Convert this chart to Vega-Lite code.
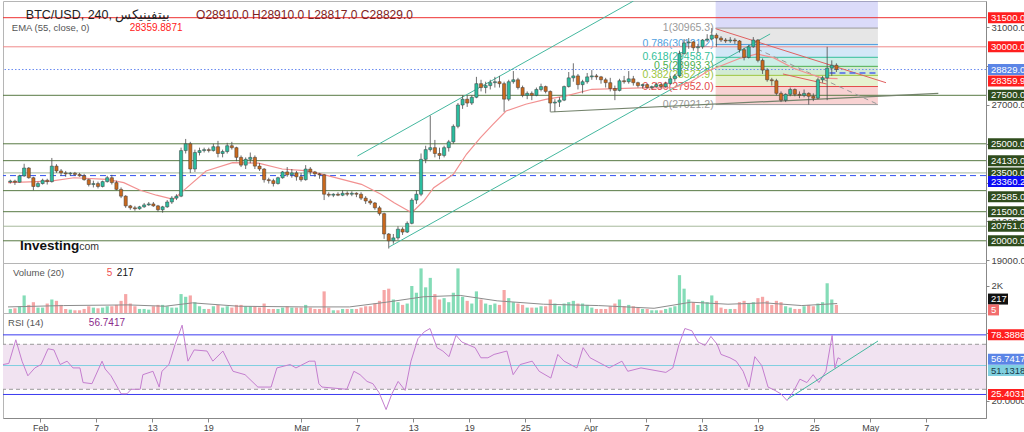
{
"$schema": "https://vega.github.io/schema/vega-lite/v6.json",
"background": "white",
"padding": 0,
"spacing": 0,
"bounds": "flush",
"config": {"font": "Liberation Sans", "view": {"stroke": "#b5b5b5"}},
"datasets": {
"k": [
{"t":"2023-01-28T06:00Z","o":23030,"h":23150,"l":22950,"c":23080,"v":300},
{"t":"2023-01-28T18:00Z","o":23080,"h":23150,"l":22880,"c":23020,"v":350},
{"t":"2023-01-29T06:00Z","o":23020,"h":23400,"l":23000,"c":23350,"v":500},
{"t":"2023-01-29T18:00Z","o":23350,"h":23970,"l":23300,"c":23750,"v":1300},
{"t":"2023-01-30T06:00Z","o":23750,"h":23800,"l":23200,"c":23250,"v":600},
{"t":"2023-01-30T18:00Z","o":23250,"h":23300,"l":22600,"c":22800,"v":800},
{"t":"2023-01-31T06:00Z","o":22800,"h":23050,"l":22750,"c":22950,"v":400},
{"t":"2023-01-31T18:00Z","o":22950,"h":23200,"l":22900,"c":23120,"v":400},
{"t":"2023-02-01T06:00Z","o":23120,"h":23200,"l":22900,"c":23050,"v":700},
{"t":"2023-02-01T18:00Z","o":23050,"h":24270,"l":23000,"c":23850,"v":1000},
{"t":"2023-02-02T06:00Z","o":23850,"h":23950,"l":23500,"c":23600,"v":900},
{"t":"2023-02-02T18:00Z","o":23600,"h":23700,"l":23350,"c":23500,"v":600},
{"t":"2023-02-03T06:00Z","o":23500,"h":23600,"l":23300,"c":23450,"v":300},
{"t":"2023-02-03T18:00Z","o":23450,"h":23550,"l":23350,"c":23480,"v":250},
{"t":"2023-02-04T06:00Z","o":23480,"h":23550,"l":23350,"c":23420,"v":200},
{"t":"2023-02-04T18:00Z","o":23420,"h":23500,"l":23300,"c":23350,"v":200},
{"t":"2023-02-05T06:00Z","o":23350,"h":23450,"l":23100,"c":23150,"v":300},
{"t":"2023-02-05T18:00Z","o":23150,"h":23200,"l":22800,"c":22900,"v":500},
{"t":"2023-02-06T06:00Z","o":22900,"h":23100,"l":22750,"c":22950,"v":400},
{"t":"2023-02-06T18:00Z","o":22950,"h":23050,"l":22700,"c":22800,"v":350},
{"t":"2023-02-07T06:00Z","o":22800,"h":23100,"l":22750,"c":23050,"v":400},
{"t":"2023-02-07T18:00Z","o":23050,"h":23350,"l":23000,"c":23250,"v":500},
{"t":"2023-02-08T06:00Z","o":23250,"h":23400,"l":22900,"c":23000,"v":500},
{"t":"2023-02-08T18:00Z","o":23000,"h":23100,"l":22600,"c":22650,"v":600},
{"t":"2023-02-09T06:00Z","o":22650,"h":22750,"l":22200,"c":22300,"v":900},
{"t":"2023-02-09T18:00Z","o":22300,"h":22350,"l":21700,"c":21800,"v":1400},
{"t":"2023-02-10T06:00Z","o":21800,"h":21850,"l":21600,"c":21700,"v":700},
{"t":"2023-02-10T18:00Z","o":21700,"h":21800,"l":21550,"c":21650,"v":500},
{"t":"2023-02-11T06:00Z","o":21650,"h":21800,"l":21600,"c":21750,"v":300},
{"t":"2023-02-11T18:00Z","o":21750,"h":21950,"l":21700,"c":21850,"v":300},
{"t":"2023-02-12T06:00Z","o":21850,"h":22000,"l":21800,"c":21900,"v":250},
{"t":"2023-02-12T18:00Z","o":21900,"h":22000,"l":21750,"c":21800,"v":500},
{"t":"2023-02-13T06:00Z","o":21800,"h":21850,"l":21500,"c":21600,"v":600},
{"t":"2023-02-13T18:00Z","o":21600,"h":21800,"l":21450,"c":21750,"v":600},
{"t":"2023-02-14T06:00Z","o":21750,"h":22100,"l":21700,"c":22000,"v":500},
{"t":"2023-02-14T18:00Z","o":22000,"h":22300,"l":21900,"c":22200,"v":400},
{"t":"2023-02-15T06:00Z","o":22200,"h":22400,"l":22100,"c":22300,"v":400},
{"t":"2023-02-15T18:00Z","o":22300,"h":24800,"l":22250,"c":24650,"v":1400},
{"t":"2023-02-16T06:00Z","o":24650,"h":25250,"l":24500,"c":25000,"v":1200},
{"t":"2023-02-16T18:00Z","o":25000,"h":25100,"l":23500,"c":23700,"v":1300},
{"t":"2023-02-17T06:00Z","o":23700,"h":24700,"l":23550,"c":24550,"v":800},
{"t":"2023-02-17T18:00Z","o":24550,"h":24800,"l":24400,"c":24650,"v":500},
{"t":"2023-02-18T06:00Z","o":24650,"h":24800,"l":24550,"c":24700,"v":300},
{"t":"2023-02-18T18:00Z","o":24700,"h":24800,"l":24550,"c":24650,"v":300},
{"t":"2023-02-19T06:00Z","o":24650,"h":25000,"l":24600,"c":24850,"v":500},
{"t":"2023-02-19T18:00Z","o":24850,"h":25150,"l":24300,"c":24500,"v":600},
{"t":"2023-02-20T06:00Z","o":24500,"h":24700,"l":24300,"c":24600,"v":400},
{"t":"2023-02-20T18:00Z","o":24600,"h":25050,"l":24500,"c":24900,"v":500},
{"t":"2023-02-21T06:00Z","o":24900,"h":25100,"l":24700,"c":24800,"v":400},
{"t":"2023-02-21T18:00Z","o":24800,"h":24850,"l":24100,"c":24300,"v":600},
{"t":"2023-02-22T06:00Z","o":24300,"h":24400,"l":23800,"c":23900,"v":600},
{"t":"2023-02-22T18:00Z","o":23900,"h":24300,"l":23700,"c":24200,"v":500},
{"t":"2023-02-23T06:00Z","o":24200,"h":24550,"l":24000,"c":24300,"v":500},
{"t":"2023-02-23T18:00Z","o":24300,"h":24400,"l":23700,"c":23850,"v":500},
{"t":"2023-02-24T06:00Z","o":23850,"h":24000,"l":23600,"c":23700,"v":400},
{"t":"2023-02-24T18:00Z","o":23700,"h":23750,"l":23000,"c":23150,"v":700},
{"t":"2023-02-25T06:00Z","o":23150,"h":23250,"l":22950,"c":23100,"v":300},
{"t":"2023-02-25T18:00Z","o":23100,"h":23200,"l":22800,"c":22950,"v":300},
{"t":"2023-02-26T06:00Z","o":22950,"h":23300,"l":22900,"c":23250,"v":300},
{"t":"2023-02-26T18:00Z","o":23250,"h":23600,"l":23200,"c":23550,"v":400},
{"t":"2023-02-27T06:00Z","o":23550,"h":23800,"l":23300,"c":23400,"v":500},
{"t":"2023-02-27T18:00Z","o":23400,"h":23700,"l":23250,"c":23500,"v":400},
{"t":"2023-02-28T06:00Z","o":23500,"h":23600,"l":23100,"c":23300,"v":400},
{"t":"2023-02-28T18:00Z","o":23300,"h":23500,"l":23050,"c":23150,"v":400},
{"t":"2023-03-01T06:00Z","o":23150,"h":23900,"l":23100,"c":23700,"v":600},
{"t":"2023-03-01T18:00Z","o":23700,"h":23800,"l":23400,"c":23550,"v":400},
{"t":"2023-03-02T06:00Z","o":23550,"h":23600,"l":23300,"c":23450,"v":300},
{"t":"2023-03-02T18:00Z","o":23450,"h":23500,"l":23200,"c":23400,"v":300},
{"t":"2023-03-03T06:00Z","o":23400,"h":23450,"l":22100,"c":22400,"v":1600},
{"t":"2023-03-03T18:00Z","o":22400,"h":22500,"l":22250,"c":22350,"v":400},
{"t":"2023-03-04T06:00Z","o":22350,"h":22450,"l":22250,"c":22400,"v":200},
{"t":"2023-03-04T18:00Z","o":22400,"h":22500,"l":22300,"c":22350,"v":200},
{"t":"2023-03-05T06:00Z","o":22350,"h":22600,"l":22300,"c":22450,"v":300},
{"t":"2023-03-05T18:00Z","o":22450,"h":22550,"l":22300,"c":22400,"v":300},
{"t":"2023-03-06T06:00Z","o":22400,"h":22550,"l":22300,"c":22450,"v":300},
{"t":"2023-03-06T18:00Z","o":22450,"h":22500,"l":22250,"c":22400,"v":300},
{"t":"2023-03-07T06:00Z","o":22400,"h":22500,"l":22100,"c":22200,"v":400},
{"t":"2023-03-07T18:00Z","o":22200,"h":22300,"l":21900,"c":22050,"v":500},
{"t":"2023-03-08T06:00Z","o":22050,"h":22150,"l":21850,"c":21950,"v":500},
{"t":"2023-03-08T18:00Z","o":21950,"h":22000,"l":21600,"c":21700,"v":700},
{"t":"2023-03-09T06:00Z","o":21700,"h":21800,"l":21300,"c":21400,"v":900},
{"t":"2023-03-09T18:00Z","o":21400,"h":21450,"l":20100,"c":20350,"v":1700},
{"t":"2023-03-10T06:00Z","o":20350,"h":20400,"l":19600,"c":20000,"v":1800},
{"t":"2023-03-10T18:00Z","o":20000,"h":20350,"l":19850,"c":20150,"v":1000},
{"t":"2023-03-11T06:00Z","o":20150,"h":20750,"l":20050,"c":20600,"v":800},
{"t":"2023-03-11T18:00Z","o":20600,"h":20700,"l":20300,"c":20450,"v":600},
{"t":"2023-03-12T06:00Z","o":20450,"h":21000,"l":20400,"c":20900,"v":700},
{"t":"2023-03-12T18:00Z","o":20900,"h":22200,"l":20850,"c":22100,"v":2000},
{"t":"2023-03-13T06:00Z","o":22100,"h":22600,"l":21900,"c":22400,"v":1500},
{"t":"2023-03-13T18:00Z","o":22400,"h":24500,"l":22300,"c":24200,"v":3300},
{"t":"2023-03-14T06:00Z","o":24200,"h":24900,"l":24000,"c":24700,"v":1900},
{"t":"2023-03-14T18:00Z","o":24700,"h":26450,"l":24600,"c":24800,"v":2600},
{"t":"2023-03-15T06:00Z","o":24800,"h":25200,"l":24300,"c":24500,"v":1400},
{"t":"2023-03-15T18:00Z","o":24500,"h":24800,"l":24200,"c":24400,"v":1000},
{"t":"2023-03-16T06:00Z","o":24400,"h":24900,"l":24300,"c":24800,"v":1100},
{"t":"2023-03-16T18:00Z","o":24800,"h":25200,"l":24600,"c":25100,"v":800},
{"t":"2023-03-17T06:00Z","o":25100,"h":26000,"l":25000,"c":25900,"v":1500},
{"t":"2023-03-17T18:00Z","o":25900,"h":27100,"l":25800,"c":27000,"v":3300},
{"t":"2023-03-18T06:00Z","o":27000,"h":27500,"l":26800,"c":27300,"v":1200},
{"t":"2023-03-18T18:00Z","o":27300,"h":27500,"l":26900,"c":27100,"v":900},
{"t":"2023-03-19T06:00Z","o":27100,"h":27500,"l":27000,"c":27400,"v":700},
{"t":"2023-03-19T18:00Z","o":27400,"h":28450,"l":27350,"c":28100,"v":1600},
{"t":"2023-03-20T06:00Z","o":28100,"h":28300,"l":27700,"c":27900,"v":1000},
{"t":"2023-03-20T18:00Z","o":27900,"h":28200,"l":27600,"c":28000,"v":700},
{"t":"2023-03-21T06:00Z","o":28000,"h":28300,"l":27800,"c":28150,"v":600},
{"t":"2023-03-21T18:00Z","o":28150,"h":28450,"l":27900,"c":28200,"v":700},
{"t":"2023-03-22T06:00Z","o":28200,"h":28500,"l":27900,"c":28100,"v":600},
{"t":"2023-03-22T18:00Z","o":28100,"h":28200,"l":26650,"c":27300,"v":1700},
{"t":"2023-03-23T06:00Z","o":27300,"h":28300,"l":27200,"c":28200,"v":1100},
{"t":"2023-03-23T18:00Z","o":28200,"h":28750,"l":28100,"c":28300,"v":800},
{"t":"2023-03-24T06:00Z","o":28300,"h":28400,"l":27800,"c":27900,"v":700},
{"t":"2023-03-24T18:00Z","o":27900,"h":28000,"l":27400,"c":27500,"v":600},
{"t":"2023-03-25T06:00Z","o":27500,"h":27700,"l":27300,"c":27600,"v":400},
{"t":"2023-03-25T18:00Z","o":27600,"h":27700,"l":27250,"c":27500,"v":400},
{"t":"2023-03-26T06:00Z","o":27500,"h":27900,"l":27450,"c":27800,"v":400},
{"t":"2023-03-26T18:00Z","o":27800,"h":28100,"l":27700,"c":27950,"v":500},
{"t":"2023-03-27T06:00Z","o":27950,"h":28000,"l":27600,"c":27700,"v":500},
{"t":"2023-03-27T18:00Z","o":27700,"h":27750,"l":26650,"c":27100,"v":1000},
{"t":"2023-03-28T06:00Z","o":27100,"h":27300,"l":26650,"c":27150,"v":700},
{"t":"2023-03-28T18:00Z","o":27150,"h":27400,"l":26900,"c":27250,"v":500},
{"t":"2023-03-29T06:00Z","o":27250,"h":28000,"l":27200,"c":27950,"v":700},
{"t":"2023-03-29T18:00Z","o":27950,"h":28700,"l":27900,"c":28400,"v":800},
{"t":"2023-03-30T06:00Z","o":28400,"h":29150,"l":28200,"c":28500,"v":900},
{"t":"2023-03-30T18:00Z","o":28500,"h":28600,"l":27800,"c":28050,"v":700},
{"t":"2023-03-31T06:00Z","o":28050,"h":28300,"l":27600,"c":28200,"v":700},
{"t":"2023-03-31T18:00Z","o":28200,"h":28650,"l":28100,"c":28450,"v":600},
{"t":"2023-04-01T06:00Z","o":28450,"h":28800,"l":28300,"c":28500,"v":400},
{"t":"2023-04-01T18:00Z","o":28500,"h":28600,"l":28300,"c":28450,"v":300},
{"t":"2023-04-02T06:00Z","o":28450,"h":28500,"l":28100,"c":28300,"v":300},
{"t":"2023-04-02T18:00Z","o":28300,"h":28400,"l":27900,"c":28150,"v":300},
{"t":"2023-04-03T06:00Z","o":28150,"h":28400,"l":27700,"c":27850,"v":500},
{"t":"2023-04-03T18:00Z","o":27850,"h":28000,"l":27250,"c":27750,"v":700},
{"t":"2023-04-04T06:00Z","o":27750,"h":28350,"l":27700,"c":28250,"v":1000},
{"t":"2023-04-04T18:00Z","o":28250,"h":28500,"l":28100,"c":28200,"v":500},
{"t":"2023-04-05T06:00Z","o":28200,"h":28750,"l":28100,"c":28350,"v":600},
{"t":"2023-04-05T18:00Z","o":28350,"h":28500,"l":28000,"c":28150,"v":500},
{"t":"2023-04-06T06:00Z","o":28150,"h":28200,"l":27900,"c":28000,"v":400},
{"t":"2023-04-06T18:00Z","o":28000,"h":28100,"l":27850,"c":28050,"v":300},
{"t":"2023-04-07T06:00Z","o":28050,"h":28100,"l":27850,"c":27900,"v":300},
{"t":"2023-04-07T18:00Z","o":27900,"h":28000,"l":27800,"c":27950,"v":200},
{"t":"2023-04-08T06:00Z","o":27950,"h":28150,"l":27900,"c":28050,"v":200},
{"t":"2023-04-08T18:00Z","o":28050,"h":28100,"l":27850,"c":27950,"v":200},
{"t":"2023-04-09T06:00Z","o":27950,"h":28200,"l":27900,"c":28100,"v":300},
{"t":"2023-04-09T18:00Z","o":28100,"h":28500,"l":28050,"c":28350,"v":400},
{"t":"2023-04-10T06:00Z","o":28350,"h":28600,"l":28200,"c":28500,"v":500},
{"t":"2023-04-10T18:00Z","o":28500,"h":29800,"l":28450,"c":29650,"v":2800},
{"t":"2023-04-11T06:00Z","o":29650,"h":30400,"l":29600,"c":30200,"v":1800},
{"t":"2023-04-11T18:00Z","o":30200,"h":30450,"l":29900,"c":30250,"v":1000},
{"t":"2023-04-12T06:00Z","o":30250,"h":30300,"l":29800,"c":29950,"v":800},
{"t":"2023-04-12T18:00Z","o":29950,"h":30150,"l":29700,"c":30000,"v":600},
{"t":"2023-04-13T06:00Z","o":30000,"h":30400,"l":29900,"c":30350,"v":900},
{"t":"2023-04-13T18:00Z","o":30350,"h":30650,"l":30250,"c":30400,"v":800},
{"t":"2023-04-14T06:00Z","o":30400,"h":30965,"l":30350,"c":30600,"v":1300},
{"t":"2023-04-14T18:00Z","o":30600,"h":30700,"l":30000,"c":30450,"v":900},
{"t":"2023-04-15T06:00Z","o":30450,"h":30550,"l":30250,"c":30350,"v":400},
{"t":"2023-04-15T18:00Z","o":30350,"h":30450,"l":30200,"c":30300,"v":300},
{"t":"2023-04-16T06:00Z","o":30300,"h":30500,"l":30200,"c":30350,"v":300},
{"t":"2023-04-16T18:00Z","o":30350,"h":30450,"l":30150,"c":30300,"v":300},
{"t":"2023-04-17T06:00Z","o":30300,"h":30350,"l":29700,"c":29850,"v":800},
{"t":"2023-04-17T18:00Z","o":29850,"h":29950,"l":29300,"c":29450,"v":900},
{"t":"2023-04-18T06:00Z","o":29450,"h":30100,"l":29400,"c":30000,"v":700},
{"t":"2023-04-18T18:00Z","o":30000,"h":30500,"l":29950,"c":30350,"v":800},
{"t":"2023-04-19T06:00Z","o":30350,"h":30400,"l":29200,"c":29300,"v":1100},
{"t":"2023-04-19T18:00Z","o":29300,"h":29400,"l":28600,"c":28800,"v":1200},
{"t":"2023-04-20T06:00Z","o":28800,"h":28900,"l":28200,"c":28300,"v":900},
{"t":"2023-04-20T18:00Z","o":28300,"h":28400,"l":28000,"c":28250,"v":600},
{"t":"2023-04-21T06:00Z","o":28250,"h":28350,"l":27500,"c":27600,"v":900},
{"t":"2023-04-21T18:00Z","o":27600,"h":27700,"l":27150,"c":27250,"v":800},
{"t":"2023-04-22T06:00Z","o":27250,"h":27600,"l":27150,"c":27550,"v":500},
{"t":"2023-04-22T18:00Z","o":27550,"h":27900,"l":27450,"c":27800,"v":400},
{"t":"2023-04-23T06:00Z","o":27800,"h":27850,"l":27450,"c":27550,"v":300},
{"t":"2023-04-23T18:00Z","o":27550,"h":27700,"l":27350,"c":27500,"v":300},
{"t":"2023-04-24T06:00Z","o":27500,"h":27800,"l":27400,"c":27600,"v":500},
{"t":"2023-04-24T18:00Z","o":27600,"h":27650,"l":27021,"c":27450,"v":600},
{"t":"2023-04-25T06:00Z","o":27450,"h":27600,"l":27200,"c":27350,"v":500},
{"t":"2023-04-25T18:00Z","o":27350,"h":28400,"l":27300,"c":28300,"v":700},
{"t":"2023-04-26T06:00Z","o":28300,"h":28500,"l":28150,"c":28400,"v":800},
{"t":"2023-04-26T18:00Z","o":28400,"h":30000,"l":27250,"c":28900,"v":2200},
{"t":"2023-04-27T06:00Z","o":28900,"h":29300,"l":28500,"c":29050,"v":1000},
{"t":"2023-04-27T18:00Z","o":29050,"h":29150,"l":28700,"c":28829,"v":600}
],
"ema": [
{"t":"2023-01-28T00:00Z","p":23000},{"t":"2023-02-01T15:00Z","p":23080},{"t":"2023-02-04T04:00Z","p":23250},{"t":"2023-02-07T17:00Z","p":23170},{"t":"2023-02-09T13:00Z","p":23000},{"t":"2023-02-11T06:00Z","p":22620},{"t":"2023-02-13T02:00Z","p":22350},{"t":"2023-02-14T22:00Z","p":22140},{"t":"2023-02-16T07:00Z","p":22700},{"t":"2023-02-18T11:00Z","p":23600},{"t":"2023-02-21T08:00Z","p":24025},{"t":"2023-02-24T03:00Z","p":24000},{"t":"2023-02-26T17:00Z","p":23700},{"t":"2023-03-01T04:00Z","p":23620},{"t":"2023-03-03T00:00Z","p":23440},{"t":"2023-03-07T07:00Z","p":22910},{"t":"2023-03-09T10:00Z","p":22400},{"t":"2023-03-10T20:00Z","p":21960},{"t":"2023-03-12T18:00Z","p":21450},{"t":"2023-03-14T01:00Z","p":22050},{"t":"2023-03-15T03:00Z","p":22740},{"t":"2023-03-17T06:00Z","p":23430},{"t":"2023-03-18T16:00Z","p":24460},{"t":"2023-03-20T04:00Z","p":25310},{"t":"2023-03-21T13:00Z","p":26000},{"t":"2023-03-22T23:00Z","p":26690},{"t":"2023-03-25T02:00Z","p":27040},{"t":"2023-03-27T06:00Z","p":27290},{"t":"2023-03-29T09:00Z","p":27460},{"t":"2023-04-01T06:00Z","p":27810},{"t":"2023-04-06T15:00Z","p":27880},{"t":"2023-04-10T04:00Z","p":27900},{"t":"2023-04-12T00:00Z","p":28200},{"t":"2023-04-13T20:00Z","p":28750},{"t":"2023-04-17T09:00Z","p":29420},{"t":"2023-04-19T04:00Z","p":29630},{"t":"2023-04-20T22:00Z","p":29440},{"t":"2023-04-23T01:00Z","p":28910},{"t":"2023-04-24T13:00Z","p":28650},{"t":"2023-04-26T06:00Z","p":28390},{"t":"2023-04-27T21:00Z","p":28360}
],
"vma": [
{"t":"2023-01-28T00:00Z","v":450},{"t":"2023-02-03T00:00Z","v":550},{"t":"2023-02-10T00:00Z","v":600},{"t":"2023-02-14T00:00Z","v":500},{"t":"2023-02-17T00:00Z","v":750},{"t":"2023-02-22T00:00Z","v":500},{"t":"2023-03-01T00:00Z","v":450},{"t":"2023-03-06T00:00Z","v":450},{"t":"2023-03-10T00:00Z","v":800},{"t":"2023-03-14T00:00Z","v":1200},{"t":"2023-03-18T00:00Z","v":1300},{"t":"2023-03-22T00:00Z","v":900},{"t":"2023-03-27T00:00Z","v":650},{"t":"2023-04-02T00:00Z","v":550},{"t":"2023-04-08T00:00Z","v":350},{"t":"2023-04-12T00:00Z","v":800},{"t":"2023-04-16T00:00Z","v":650},{"t":"2023-04-20T00:00Z","v":750},{"t":"2023-04-24T00:00Z","v":550},{"t":"2023-04-27T20:00Z","v":700}
],
"rsi": [
{"t":"2023-01-28T00:00Z","r":52},{"t":"2023-01-28T15:00Z","r":53},{"t":"2023-01-29T09:00Z","r":74},{"t":"2023-01-30T01:00Z","r":55},{"t":"2023-01-30T16:00Z","r":42},{"t":"2023-01-31T10:00Z","r":49},{"t":"2023-02-01T02:00Z","r":52},{"t":"2023-02-01T20:00Z","r":66},{"t":"2023-02-02T11:00Z","r":65},{"t":"2023-02-03T03:00Z","r":52},{"t":"2023-02-03T21:00Z","r":55},{"t":"2023-02-04T12:00Z","r":49},{"t":"2023-02-05T06:00Z","r":49},{"t":"2023-02-05T14:00Z","r":36},{"t":"2023-02-06T13:00Z","r":35},{"t":"2023-02-07T15:00Z","r":55},{"t":"2023-02-07T23:00Z","r":48},{"t":"2023-02-08T14:00Z","r":42},{"t":"2023-02-09T16:00Z","r":26},{"t":"2023-02-10T07:00Z","r":26},{"t":"2023-02-10T18:00Z","r":30},{"t":"2023-02-11T17:00Z","r":30},{"t":"2023-02-12T00:00Z","r":43},{"t":"2023-02-13T02:00Z","r":46},{"t":"2023-02-13T18:00Z","r":32},{"t":"2023-02-14T01:00Z","r":46},{"t":"2023-02-14T19:00Z","r":52},{"t":"2023-02-15T11:00Z","r":70},{"t":"2023-02-16T05:00Z","r":87},{"t":"2023-02-16T20:00Z","r":55},{"t":"2023-02-17T12:00Z","r":65},{"t":"2023-02-18T21:00Z","r":64},{"t":"2023-02-19T12:00Z","r":55},{"t":"2023-02-20T14:00Z","r":64},{"t":"2023-02-21T16:00Z","r":46},{"t":"2023-02-22T23:00Z","r":43},{"t":"2023-02-24T08:00Z","r":32},{"t":"2023-02-25T00:00Z","r":32},{"t":"2023-02-25T18:00Z","r":32},{"t":"2023-02-26T09:00Z","r":49},{"t":"2023-02-27T19:00Z","r":52},{"t":"2023-02-28T10:00Z","r":49},{"t":"2023-03-01T20:00Z","r":55},{"t":"2023-03-02T11:00Z","r":55},{"t":"2023-03-02T21:00Z","r":35},{"t":"2023-03-03T05:00Z","r":32},{"t":"2023-03-05T21:00Z","r":30},{"t":"2023-03-06T15:00Z","r":46},{"t":"2023-03-07T07:00Z","r":43},{"t":"2023-03-08T01:00Z","r":37},{"t":"2023-03-08T16:00Z","r":35},{"t":"2023-03-09T08:00Z","r":27},{"t":"2023-03-10T02:00Z","r":12},{"t":"2023-03-10T17:00Z","r":26},{"t":"2023-03-11T09:00Z","r":37},{"t":"2023-03-12T03:00Z","r":29},{"t":"2023-03-12T18:00Z","r":55},{"t":"2023-03-13T12:00Z","r":75},{"t":"2023-03-14T04:00Z","r":81},{"t":"2023-03-14T19:00Z","r":84},{"t":"2023-03-15T13:00Z","r":67},{"t":"2023-03-16T04:00Z","r":64},{"t":"2023-03-16T20:00Z","r":59},{"t":"2023-03-17T14:00Z","r":78},{"t":"2023-03-18T05:00Z","r":72},{"t":"2023-03-19T15:00Z","r":67},{"t":"2023-03-20T06:00Z","r":58},{"t":"2023-03-21T00:00Z","r":58},{"t":"2023-03-21T16:00Z","r":61},{"t":"2023-03-23T01:00Z","r":64},{"t":"2023-03-23T17:00Z","r":43},{"t":"2023-03-24T11:00Z","r":52},{"t":"2023-03-25T18:00Z","r":55},{"t":"2023-03-26T12:00Z","r":46},{"t":"2023-03-27T18:00Z","r":40},{"t":"2023-03-28T12:00Z","r":61},{"t":"2023-03-29T04:00Z","r":55},{"t":"2023-03-30T13:00Z","r":49},{"t":"2023-03-31T05:00Z","r":67},{"t":"2023-03-31T23:00Z","r":58},{"t":"2023-04-02T08:00Z","r":52},{"t":"2023-04-03T00:00Z","r":49},{"t":"2023-04-04T09:00Z","r":55},{"t":"2023-04-05T00:00Z","r":46},{"t":"2023-04-06T10:00Z","r":49},{"t":"2023-04-09T02:00Z","r":45},{"t":"2023-04-09T20:00Z","r":49},{"t":"2023-04-10T12:00Z","r":70},{"t":"2023-04-11T03:00Z","r":84},{"t":"2023-04-11T21:00Z","r":82},{"t":"2023-04-12T13:00Z","r":72},{"t":"2023-04-13T07:00Z","r":69},{"t":"2023-04-13T22:00Z","r":77},{"t":"2023-04-14T14:00Z","r":70},{"t":"2023-04-15T00:00Z","r":61},{"t":"2023-04-15T23:00Z","r":58},{"t":"2023-04-16T15:00Z","r":55},{"t":"2023-04-17T09:00Z","r":46},{"t":"2023-04-18T00:00Z","r":32},{"t":"2023-04-18T15:00Z","r":59},{"t":"2023-04-19T09:00Z","r":51},{"t":"2023-04-20T01:00Z","r":32},{"t":"2023-04-20T19:00Z","r":29},{"t":"2023-04-21T10:00Z","r":26},{"t":"2023-04-22T02:00Z","r":20},{"t":"2023-04-22T20:00Z","r":29},{"t":"2023-04-23T11:00Z","r":39},{"t":"2023-04-24T05:00Z","r":36},{"t":"2023-04-24T21:00Z","r":43},{"t":"2023-04-25T12:00Z","r":36},{"t":"2023-04-26T06:00Z","r":46},{"t":"2023-04-26T22:00Z","r":78},{"t":"2023-04-27T05:00Z","r":49},{"t":"2023-04-27T13:00Z","r":58},{"t":"2023-04-27T20:00Z","r":56.74}
],
"fib": [
{"lvl":"1.618","p":33402.9,"lo":30965.3,"lab":"","t0":"2023-04-14T16:00Z","t1":"2023-05-02T06:00Z"},
{"lvl":"1","p":30965.3,"lo":30121.2,"lab":"1(30965.3)","t0":"2023-04-14T16:00Z","t1":"2023-05-02T06:00Z"},
{"lvl":"0.786","p":30121.2,"lo":29458.7,"lab":"0.786(30121.2)","t0":"2023-04-14T16:00Z","t1":"2023-05-02T06:00Z"},
{"lvl":"0.618","p":29458.7,"lo":28993.3,"lab":"0.618(29458.7)","t0":"2023-04-14T16:00Z","t1":"2023-05-02T06:00Z"},
{"lvl":"0.5","p":28993.3,"lo":28527.9,"lab":"0.5(28993.3)","t0":"2023-04-14T16:00Z","t1":"2023-05-02T06:00Z"},
{"lvl":"0.382","p":28527.9,"lo":27952.0,"lab":"0.382(28527.9)","t0":"2023-04-14T16:00Z","t1":"2023-05-02T06:00Z"},
{"lvl":"0.236","p":27952.0,"lo":27021.2,"lab":"0.236(27952.0)","t0":"2023-04-14T16:00Z","t1":"2023-05-02T06:00Z"},
{"lvl":"0","p":27021.2,"lo":null,"lab":"0(27021.2)","t0":"2023-04-14T16:00Z","t1":"2023-05-02T06:00Z"}
],
"lv": [
{"p":31500,"kind":"r1"},{"p":30000,"kind":"r2"},{"p":28829,"kind":"bp"},{"p":27500,"kind":"dg"},{"p":25000,"kind":"dg"},{"p":24130,"kind":"dg"},{"p":23500,"kind":"lg"},{"p":23360.2,"kind":"bd"},{"p":22585,"kind":"dg"},{"p":21500,"kind":"dg"},{"p":20751,"kind":"lg"},{"p":20000,"kind":"dg"}
],
"tl": [
{"id":"ch1","t":"2023-03-06T20:40Z","p":24370},{"id":"ch1","t":"2023-04-05T18:30Z","p":32361},
{"id":"ch2","t":"2023-03-10T07:00Z","p":19680},{"id":"ch2","t":"2023-04-20T13:40Z","p":30660},
{"id":"sup","t":"2023-03-27T18:30Z","p":26640},{"id":"sup","t":"2023-05-08T19:00Z","p":27603},
{"id":"rd","t":"2023-04-14T16:00Z","p":30933},{"id":"rd","t":"2023-05-03T03:00Z","p":28149},
{"id":"rs","t":"2023-04-21T23:00Z","p":28598},{"id":"rs","t":"2023-04-26T16:30Z","p":28082},
{"id":"gd","t":"2023-04-19T04:20Z","p":29886},{"id":"gd","t":"2023-05-02T04:00Z","p":27051},
{"id":"bs","t":"2023-04-27T00:00Z","p":28650},{"id":"bs","t":"2023-05-02T09:00Z","p":28650}
],
"pb": [
{"p":31500,"lab":"31500.0","kind":"r"},{"p":30000,"lab":"30000.0","kind":"r"},{"p":28829,"lab":"28829.0","kind":"b1"},{"p":28359.9,"lab":"28359.9","kind":"r"},{"p":27500,"lab":"27500.0","kind":"g"},{"p":25000,"lab":"25000.0","kind":"g"},{"p":24130,"lab":"24130.0","kind":"g"},{"p":23500,"lab":"23500.0","kind":"g"},{"p":23360.2,"lab":"23360.2","kind":"b2"},{"p":22585,"lab":"22585.0","kind":"g"},{"p":21500,"lab":"21500.0","kind":"g"},{"p":20751,"lab":"20751.0","kind":"g"},{"p":20000,"lab":"20000.0","kind":"g"}
],
"rb": [
{"r":78.3886,"lab":"78.3886","kind":"b"},{"r":56.7417,"lab":"56.7417","kind":"p"},{"r":25.4031,"lab":"25.4031","kind":"b"}
]
},
"vconcat": [
{
"width": 983, "height": 262,
"layer": [
{"data":{"name":"fib"},"transform":[{"filter":"datum.lo != null"}],
 "mark":{"type":"rect","clip":true,"opacity":0.25},
 "encoding":{
  "x":{"field":"t0","type":"temporal","scale":{"type":"utc","domain":[{"year":2023,"month":1,"date":28,"utc":true},{"year":2023,"month":5,"date":13,"hours":10,"utc":true}]},"axis":null},
  "x2":{"field":"t1"},
  "y":{"field":"p","type":"quantitative","scale":{"domain":[18855,32361],"nice":false,"zero":false},
       "axis":{"orient":"right","title":null,"grid":false,"values":[19000,20000,21000,22000,23000,24000,25000,26000,27000,28000,29000,30000,31000,32000],"format":".1f","labelFontSize":9.5,"labelColor":"#444","tickColor":"#888","domainColor":"#888","tickSize":3,"labelPadding":2}},
  "y2":{"field":"lo"},
  "color":{"field":"lvl","type":"nominal","scale":{"domain":["1.618","1","0.786","0.618","0.5","0.382","0.236","0"],"range":["#6f6fe6","#9a9a9a","#4f9fe0","#35bf9a","#4caf50","#9cc63f","#e34b4b","#9a9a9a"]},"legend":null}}},
{"data":{"name":"fib"},"transform":[{"filter":"datum.lvl != '1.618'"}],
 "mark":{"type":"rule","clip":true,"strokeWidth":1},
 "encoding":{"x":{"field":"t0","type":"temporal","scale":{"type":"utc"}},"x2":{"field":"t1"},"y":{"field":"p","type":"quantitative"},"color":{"field":"lvl","type":"nominal","legend":null}}},
{"data":{"name":"fib"},"transform":[{"filter":"datum.lab != ''"}],
 "mark":{"type":"text","align":"right","baseline":"middle","dx":-2,"fontSize":10.5},
 "encoding":{"x":{"field":"t0","type":"temporal","scale":{"type":"utc"}},"y":{"field":"p","type":"quantitative"},"text":{"field":"lab"},"color":{"field":"lvl","type":"nominal","legend":null}}},
{"data":{"name":"lv"},
 "mark":{"type":"rule","strokeWidth":1},
 "encoding":{"y":{"field":"p","type":"quantitative"},
  "stroke":{"field":"kind","type":"nominal","scale":{"domain":["dg","lg","r1","r2","bd","bp"],"range":["#587a44","#a7b99c","#ee3030","#f08a8a","#3050f0","#6a8cf0"]},"legend":null},
  "strokeDash":{"field":"kind","type":"nominal","scale":{"domain":["dg","lg","r1","r2","bd","bp"],"range":[[1,0],[1,0],[1,0],[1,0],[6,4],[1.5,2]]},"legend":null}}},
{"data":{"name":"tl"},"transform":[{"filter":{"field":"id","oneOf":["ch1","ch2"]}}],
 "mark":{"type":"line","clip":true,"stroke":"#45b89f","strokeWidth":1},
 "encoding":{"x":{"field":"t","type":"temporal","scale":{"type":"utc"}},"y":{"field":"p","type":"quantitative"},"detail":{"field":"id"}}},
{"data":{"name":"tl"},"transform":[{"filter":{"field":"id","oneOf":["sup"]}}],
 "mark":{"type":"line","clip":true,"stroke":"#74836c","strokeWidth":1.2},
 "encoding":{"x":{"field":"t","type":"temporal","scale":{"type":"utc"}},"y":{"field":"p","type":"quantitative"}}},
{"data":{"name":"tl"},"transform":[{"filter":{"field":"id","oneOf":["rd","rs"]}}],
 "mark":{"type":"line","clip":true,"stroke":"#e06060","strokeWidth":1},
 "encoding":{"x":{"field":"t","type":"temporal","scale":{"type":"utc"}},"y":{"field":"p","type":"quantitative"},"detail":{"field":"id"}}},
{"data":{"name":"tl"},"transform":[{"filter":{"field":"id","oneOf":["gd"]}}],
 "mark":{"type":"line","clip":true,"stroke":"#9a9a9a","strokeWidth":1,"strokeDash":[5,4]},
 "encoding":{"x":{"field":"t","type":"temporal","scale":{"type":"utc"}},"y":{"field":"p","type":"quantitative"}}},
{"data":{"name":"tl"},"transform":[{"filter":{"field":"id","oneOf":["bs"]}}],
 "mark":{"type":"line","clip":true,"stroke":"#4d66ee","strokeWidth":1.3,"strokeDash":[6,4]},
 "encoding":{"x":{"field":"t","type":"temporal","scale":{"type":"utc"}},"y":{"field":"p","type":"quantitative"}}},
{"data":{"name":"ema"},
 "mark":{"type":"line","stroke":"#f29191","strokeWidth":1.2},
 "encoding":{"x":{"field":"t","type":"temporal","scale":{"type":"utc"}},"y":{"field":"p","type":"quantitative"}}},
{"data":{"name":"k"},
 "mark":{"type":"rule","stroke":"#4a4a4a","strokeWidth":0.8},
 "encoding":{"x":{"field":"t","type":"temporal","scale":{"type":"utc"}},"y":{"field":"l","type":"quantitative"},"y2":{"field":"h"}}},
{"data":{"name":"k"},
 "mark":{"type":"bar","size":3.2,"stroke":"#3d3d3d","strokeWidth":0.5},
 "encoding":{"x":{"field":"t","type":"temporal","scale":{"type":"utc"}},"y":{"field":"o","type":"quantitative"},"y2":{"field":"c"},
  "color":{"condition":{"test":"datum.c >= datum.o","value":"#2bbd9f"},"value":"#c9681c"}}},
{"data":{"values":[{}]},
 "mark":{"type":"text","align":"left","baseline":"middle","fontSize":12.5,"color":"#222"},
 "encoding":{"x":{"datum":{"year":2023,"month":1,"date":29,"hours":22,"minutes":20,"utc":true},"type":"temporal","scale":{"type":"utc"}},"y":{"datum":31639},"text":{"value":"BTC/USD, 240, بيتفينيكس"}}},
{"data":{"values":[{}]},
 "mark":{"type":"text","align":"left","baseline":"middle","fontSize":12,"color":"#7d2222"},
 "encoding":{"x":{"datum":{"year":2023,"month":2,"date":17,"hours":9,"utc":true},"type":"temporal","scale":{"type":"utc"}},"y":{"datum":31639},"text":{"value":"O28910.0  H28910.0  L28817.0  C28829.0"}}},
{"data":{"values":[{}]},
 "mark":{"type":"text","align":"left","baseline":"middle","fontSize":9.5,"color":"#555"},
 "encoding":{"x":{"datum":{"year":2023,"month":1,"date":28,"hours":10,"utc":true},"type":"temporal","scale":{"type":"utc"}},"y":{"datum":30969},"text":{"value":"EMA (55, close, 0)"}}},
{"data":{"values":[{}]},
 "mark":{"type":"text","align":"left","baseline":"middle","fontSize":10,"color":"#ff2020"},
 "encoding":{"x":{"datum":{"year":2023,"month":2,"date":10,"hours":4,"minutes":30,"utc":true},"type":"temporal","scale":{"type":"utc"}},"y":{"datum":30969},"text":{"value":"28359.8871"}}},
{"data":{"values":[{}]},
 "mark":{"type":"text","align":"left","baseline":"middle","fontSize":13.5,"fontWeight":"bold","color":"#111"},
 "encoding":{"x":{"datum":{"year":2023,"month":1,"date":29,"hours":7,"utc":true},"type":"temporal","scale":{"type":"utc"}},"y":{"datum":19731},"text":{"value":"Investing"}}},
{"data":{"values":[{}]},
 "mark":{"type":"text","align":"left","baseline":"middle","fontSize":10.5,"color":"#333","dy":1},
 "encoding":{"x":{"datum":{"year":2023,"month":2,"date":4,"hours":9,"minutes":30,"utc":true},"type":"temporal","scale":{"type":"utc"}},"y":{"datum":19731},"text":{"value":".com"}}},
{"data":{"name":"pb"},"transform":[{"filter":{"not":{"field":"lab","oneOf":["23360.2","22585.0","28359.9"]}}}],
 "mark":{"type":"point","shape":"M0.1,-0.275L2,-0.275L2,0.275L0.1,0.275Z","size":1600,"filled":true,"opacity":1,"strokeWidth":0},
 "encoding":{"x":{"value":"width"},"y":{"field":"p","type":"quantitative"},
  "fill":{"field":"kind","type":"nominal","scale":{"domain":["r","b1","g","b2"],"range":["#ff1f1f","#5b85e6","#2f4c1d","#0b0bf5"]},"legend":null}}},
{"data":{"name":"pb"},"transform":[{"filter":{"not":{"field":"lab","oneOf":["23360.2","22585.0","28359.9"]}}}],
 "mark":{"type":"text","align":"left","baseline":"middle","dx":5,"fontSize":9.5,"color":"white"},
 "encoding":{"x":{"value":"width"},"y":{"field":"p","type":"quantitative"},"text":{"field":"lab"}}},
{"data":{"name":"pb"},"transform":[{"filter":{"field":"lab","oneOf":["28359.9"]}}],
 "mark":{"type":"point","shape":"M0.1,-0.275L2,-0.275L2,0.275L0.1,0.275Z","size":1600,"filled":true,"opacity":1,"strokeWidth":0,"yOffset":2.5},
 "encoding":{"x":{"value":"width"},"y":{"field":"p","type":"quantitative"},
  "fill":{"field":"kind","type":"nominal","legend":null}}},
{"data":{"name":"pb"},"transform":[{"filter":{"field":"lab","oneOf":["28359.9"]}}],
 "mark":{"type":"text","align":"left","baseline":"middle","dx":5,"fontSize":9.5,"color":"white","yOffset":2.5},
 "encoding":{"x":{"value":"width"},"y":{"field":"p","type":"quantitative"},"text":{"field":"lab"}}},
{"data":{"name":"pb"},"transform":[{"filter":{"field":"lab","oneOf":["23360.2","22585.0"]}}],
 "mark":{"type":"point","shape":"M0.1,-0.275L2,-0.275L2,0.275L0.1,0.275Z","size":1600,"filled":true,"opacity":1,"strokeWidth":0,"yOffset":6},
 "encoding":{"x":{"value":"width"},"y":{"field":"p","type":"quantitative"},
  "fill":{"field":"kind","type":"nominal","legend":null}}},
{"data":{"name":"pb"},"transform":[{"filter":{"field":"lab","oneOf":["23360.2","22585.0"]}}],
 "mark":{"type":"text","align":"left","baseline":"middle","dx":5,"fontSize":9.5,"color":"white","yOffset":6},
 "encoding":{"x":{"value":"width"},"y":{"field":"p","type":"quantitative"},"text":{"field":"lab"}}}
]
},
{
"width": 983, "height": 50,
"layer": [
{"data":{"name":"k"},
 "mark":{"type":"bar","size":3.2},
 "encoding":{
  "x":{"field":"t","type":"temporal","scale":{"type":"utc","domain":[{"year":2023,"month":1,"date":28,"utc":true},{"year":2023,"month":5,"date":13,"hours":10,"utc":true}]},"axis":null},
  "y":{"field":"v","type":"quantitative","scale":{"domain":[0,3700],"nice":false},
       "axis":{"orient":"right","title":null,"grid":false,"values":[2000],"labelExpr":"'2K'","labelFontSize":9.5,"labelColor":"#444","tickColor":"#888","domainColor":"#888","tickSize":3,"labelPadding":2}},
  "color":{"condition":{"test":"datum.c >= datum.o","value":"#84dcb7"},"value":"#f6a6a6"}}},
{"data":{"name":"vma"},
 "mark":{"type":"line","stroke":"#8c8c8c","strokeWidth":1},
 "encoding":{"x":{"field":"t","type":"temporal","scale":{"type":"utc"}},"y":{"field":"v","type":"quantitative"}}},
{"data":{"values":[{}]},
 "mark":{"type":"text","align":"left","baseline":"middle","fontSize":9.5,"color":"#555"},
 "encoding":{"x":{"datum":{"year":2023,"month":1,"date":28,"hours":13,"utc":true},"type":"temporal","scale":{"type":"utc"}},"y":{"datum":2960},"text":{"value":"Volume (20)"}}},
{"data":{"values":[{}]},
 "mark":{"type":"text","align":"left","baseline":"middle","fontSize":10,"color":"#f05050"},
 "encoding":{"x":{"datum":{"year":2023,"month":2,"date":7,"hours":17,"utc":true},"type":"temporal","scale":{"type":"utc"}},"y":{"datum":2960},"text":{"value":"5"}}},
{"data":{"values":[{}]},
 "mark":{"type":"text","align":"left","baseline":"middle","fontSize":10,"color":"#111"},
 "encoding":{"x":{"datum":{"year":2023,"month":2,"date":8,"hours":19,"utc":true},"type":"temporal","scale":{"type":"utc"}},"y":{"datum":2960},"text":{"value":"217"}}},
{"data":{"values":[{}]},
 "mark":{"type":"point","shape":"M0.1,-0.275L1.1,-0.275L1.1,0.275L0.1,0.275Z","size":1600,"filled":true,"opacity":1,"strokeWidth":0,"color":"#111","yOffset":-11},
 "encoding":{"x":{"value":"width"},"y":{"datum":217}}},
{"data":{"values":[{}]},
 "mark":{"type":"text","align":"left","baseline":"middle","dx":5,"fontSize":9.5,"color":"white","yOffset":-11},
 "encoding":{"x":{"value":"width"},"y":{"datum":217},"text":{"value":"217"}}},
{"data":{"values":[{}]},
 "mark":{"type":"point","shape":"M0.1,-0.275L0.65,-0.275L0.65,0.275L0.1,0.275Z","size":1600,"filled":true,"opacity":1,"strokeWidth":0,"color":"#f26d6d","yOffset":-3},
 "encoding":{"x":{"value":"width"},"y":{"datum":5}}},
{"data":{"values":[{}]},
 "mark":{"type":"text","align":"left","baseline":"middle","dx":5,"fontSize":9.5,"color":"white","yOffset":-3},
 "encoding":{"x":{"value":"width"},"y":{"datum":5},"text":{"value":"5"}}}
]
},
{
"width": 983, "height": 105,
"layer": [
{"data":{"values":[{}]},
 "mark":{"type":"rect","color":"#f1e3f1"},
 "encoding":{
  "x":{"datum":{"year":2023,"month":1,"date":28,"utc":true},"type":"temporal","scale":{"type":"utc","domain":[{"year":2023,"month":1,"date":28,"utc":true},{"year":2023,"month":5,"date":13,"hours":10,"utc":true}]},
       "axis":{"orient":"bottom","title":null,"grid":false,"labelFontSize":9,"labelColor":"#444","tickColor":"#888","domainColor":"#888","tickSize":4,"labelPadding":1,
        "values":[{"year":2023,"month":2,"date":1,"utc":true},{"year":2023,"month":2,"date":7,"utc":true},{"year":2023,"month":2,"date":13,"utc":true},{"year":2023,"month":2,"date":19,"utc":true},{"year":2023,"month":3,"date":1,"utc":true},{"year":2023,"month":3,"date":7,"utc":true},{"year":2023,"month":3,"date":13,"utc":true},{"year":2023,"month":3,"date":19,"utc":true},{"year":2023,"month":3,"date":25,"utc":true},{"year":2023,"month":4,"date":1,"utc":true},{"year":2023,"month":4,"date":7,"utc":true},{"year":2023,"month":4,"date":13,"utc":true},{"year":2023,"month":4,"date":19,"utc":true},{"year":2023,"month":4,"date":25,"utc":true},{"year":2023,"month":5,"date":1,"utc":true},{"year":2023,"month":5,"date":7,"utc":true}],
        "labelExpr":"utcdate(datum.value) == 1 ? utcFormat(datum.value, '%b') : utcFormat(datum.value, '%-d')"}},
  "x2":{"datum":{"year":2023,"month":5,"date":13,"hours":10,"utc":true}},
  "y":{"datum":30,"type":"quantitative","scale":{"domain":[4.5,97.8],"nice":false,"zero":false},
       "axis":{"orient":"right","title":null,"grid":false,"values":[20,40,60,80],"format":".4f","labelFontSize":9.5,"labelColor":"#444","tickColor":"#888","domainColor":"#888","tickSize":3,"labelPadding":2}},
  "y2":{"datum":70}}},
{"data":{"values":[{"r":30},{"r":70}]},
 "mark":{"type":"rule","stroke":"#9a9a9a","strokeDash":[4,3],"strokeWidth":1},
 "encoding":{"y":{"field":"r","type":"quantitative"}}},
{"data":{"values":[{"r":78.3886},{"r":25.4031}]},
 "mark":{"type":"rule","stroke":"#3a3af0","strokeWidth":1},
 "encoding":{"y":{"field":"r","type":"quantitative"}}},
{"data":{"values":[{"r":51.1318}]},
 "mark":{"type":"rule","stroke":"#7fcfe0","strokeWidth":1},
 "encoding":{"y":{"field":"r","type":"quantitative"}}},
{"data":{"name":"rsi"},
 "mark":{"type":"line","stroke":"#c47ecf","strokeWidth":1},
 "encoding":{"x":{"field":"t","type":"temporal","scale":{"type":"utc"}},"y":{"field":"r","type":"quantitative"}}},
{"data":{"values":[{"t":"2023-04-22T04:00Z","r":21.4},{"t":"2023-05-01T20:00Z","r":72.9}]},
 "mark":{"type":"line","stroke":"#45b89f","strokeWidth":1},
 "encoding":{"x":{"field":"t","type":"temporal","scale":{"type":"utc"}},"y":{"field":"r","type":"quantitative"}}},
{"data":{"values":[{}]},
 "mark":{"type":"text","align":"left","baseline":"middle","fontSize":9.5,"color":"#555"},
 "encoding":{"x":{"datum":{"year":2023,"month":1,"date":28,"hours":13,"utc":true},"type":"temporal","scale":{"type":"utc"}},"y":{"datum":88.9},"text":{"value":"RSI (14)"}}},
{"data":{"values":[{}]},
 "mark":{"type":"text","align":"left","baseline":"middle","fontSize":10,"color":"#8b2b8b"},
 "encoding":{"x":{"datum":{"year":2023,"month":2,"date":6,"hours":5,"utc":true},"type":"temporal","scale":{"type":"utc"}},"y":{"datum":88.9},"text":{"value":"56.7417"}}},
{"data":{"name":"rb"},
 "mark":{"type":"point","shape":"M0.1,-0.275L2,-0.275L2,0.275L0.1,0.275Z","size":1600,"filled":true,"opacity":1,"strokeWidth":0},
 "encoding":{"x":{"value":"width"},"y":{"field":"r","type":"quantitative"},
  "fill":{"field":"kind","type":"nominal","scale":{"domain":["b","p"],"range":["#1414f0","#800080"]},"legend":null}}},
{"data":{"name":"rb"},
 "mark":{"type":"text","align":"left","baseline":"middle","dx":5,"fontSize":9.5,"color":"white"},
 "encoding":{"x":{"value":"width"},"y":{"field":"r","type":"quantitative"},"text":{"field":"lab"}}},
{"data":{"values":[{}]},
 "mark":{"type":"point","shape":"M0.1,-0.275L2,-0.275L2,0.275L0.1,0.275Z","size":1600,"filled":true,"opacity":1,"strokeWidth":0,"color":"#80d0e0","yOffset":5},
 "encoding":{"x":{"value":"width"},"y":{"datum":51.1318}}},
{"data":{"values":[{}]},
 "mark":{"type":"text","align":"left","baseline":"middle","dx":5,"fontSize":9.5,"color":"#1a3a4a","yOffset":5},
 "encoding":{"x":{"value":"width"},"y":{"datum":51.1318},"text":{"value":"51.1318"}}}
]
}
]
}
